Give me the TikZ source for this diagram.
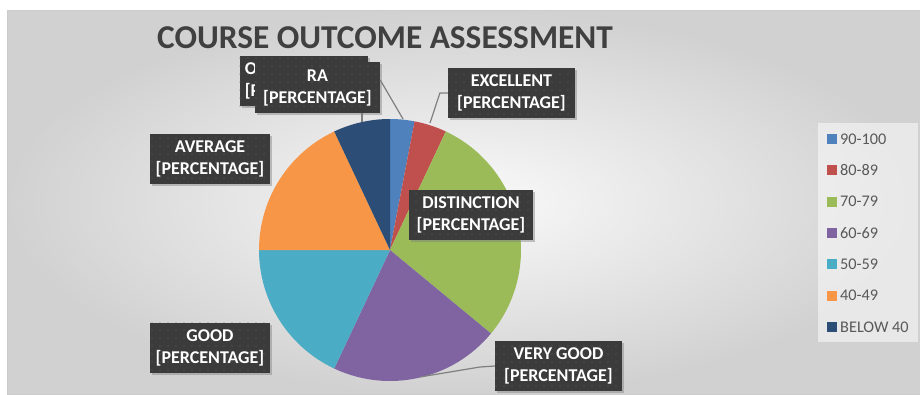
\documentclass[tikz,border=0pt]{standalone}
\usepackage{fontspec}
\setmainfont{Carlito}
\usetikzlibrary{positioning,shadows,patterns.meta}
\definecolor{cA}{HTML}{4F81BD}
\definecolor{cB}{HTML}{C0504D}
\definecolor{cC}{HTML}{9BBB59}
\definecolor{cD}{HTML}{8064A2}
\definecolor{cE}{HTML}{4BACC6}
\definecolor{cF}{HTML}{F79646}
\definecolor{cG}{HTML}{2C4D75}
\definecolor{boxgray}{HTML}{3B3B3B}
\definecolor{leadgray}{HTML}{7F7F7F}
\definecolor{titlegray}{HTML}{404040}
\definecolor{keygray}{HTML}{595959}
\begin{document}
\begin{tikzpicture}[x=0.75pt,y=0.75pt,
	lbl/.style={fill=boxgray, text=white, align=center, minimum height=38pt, inner xsep=4pt,
		font=\fontsize{13.5}{16.5}\selectfont\bfseries,
		drop shadow={opacity=.45, shadow xshift=1.5pt, shadow yshift=-1.5pt},
		postaction={pattern={Dots[distance=6pt,radius=.55pt]}, pattern color=white!22!boxgray}},
	lead/.style={draw=leadgray, line width=.9pt},
	legkey/.style={fill=#1, minimum size=7.5pt, inner sep=0pt},
	keytext/.style={text=keygray, font=\fontsize{12.2}{14}\selectfont, inner sep=1pt}]
	\useasboundingbox (0,0) rectangle (920,394);
	\shade[inner color=gray!4, outer color=gray!36, draw=gray!40] (7,0) rectangle (920,384);
	\node[font=\fontsize{25}{30}\selectfont\bfseries, text=titlegray] (title) at (385,356) {COURSE OUTCOME ASSESSMENT};
	\coordinate (pie) at (390,144);
	\foreach \a/\b/\c in {90/79.2/cA, 79.2/64.8/cB, 64.8/-39.6/cC, -39.6/-115.2/cD, -115.2/-180/cE, 180/115.2/cF, 115.2/90/cG}
		\fill[\c] (pie) -- ++(\a:131) arc[start angle=\a, end angle=\b, radius=131] -- cycle;
	\coordinate (endG) at (362,272);
	\coordinate (endA) at (403,275);
	\coordinate (endB) at (430,271);
	\coordinate (endD) at (420,17);
	\node[lbl, text width=88pt, align=left] (below) at (303.5,313) {O\\{}[P};
	\draw[lead] (below.south -| endG) -- (endG);
	\node[lbl, minimum width=93.75pt] (ra) at (317.5,306.5) {RA\\{}[PERCENTAGE]};
	\draw[lead] ([yshift=5.6pt]ra.east) -- (endA);
	\node[lbl, minimum width=95pt] (exc) at (511.5,301) {EXCELLENT\\{}[PERCENTAGE]};
	\draw[lead] (exc.west) -- ++(-8,0) -- (endB);
	\node[lbl, minimum width=90pt] (avg) at (210,235) {AVERAGE\\{}[PERCENTAGE]};
	\node[lbl, minimum width=93pt] (dist) at (471,179) {DISTINCTION\\{}[PERCENTAGE]};
	\node[lbl, minimum width=90pt] (good) at (210,46) {GOOD\\{}[PERCENTAGE]};
	\node[lbl, minimum width=95pt] (vgood) at (558.5,28) {VERY GOOD\\{}[PERCENTAGE]};
	\draw[lead] (vgood.west) -- ++(-15,-1) -- (endD);
	\node[fill=white, fill opacity=.5, minimum width=75pt, minimum height=164pt] (legend) at (868,161.5) {};
	\foreach \c/\t [count=\i] in {cA/90-100, cB/80-89, cC/70-79, cD/60-69, cE/50-59, cF/40-49, cG/BELOW 40} {
		\node[legkey=\c] (k\i) at (832,{255-(\i-1)*31.33}) {};
		\node[keytext, right=1pt of k\i] (t\i) {\t};
	}
\end{tikzpicture}
\end{document}
